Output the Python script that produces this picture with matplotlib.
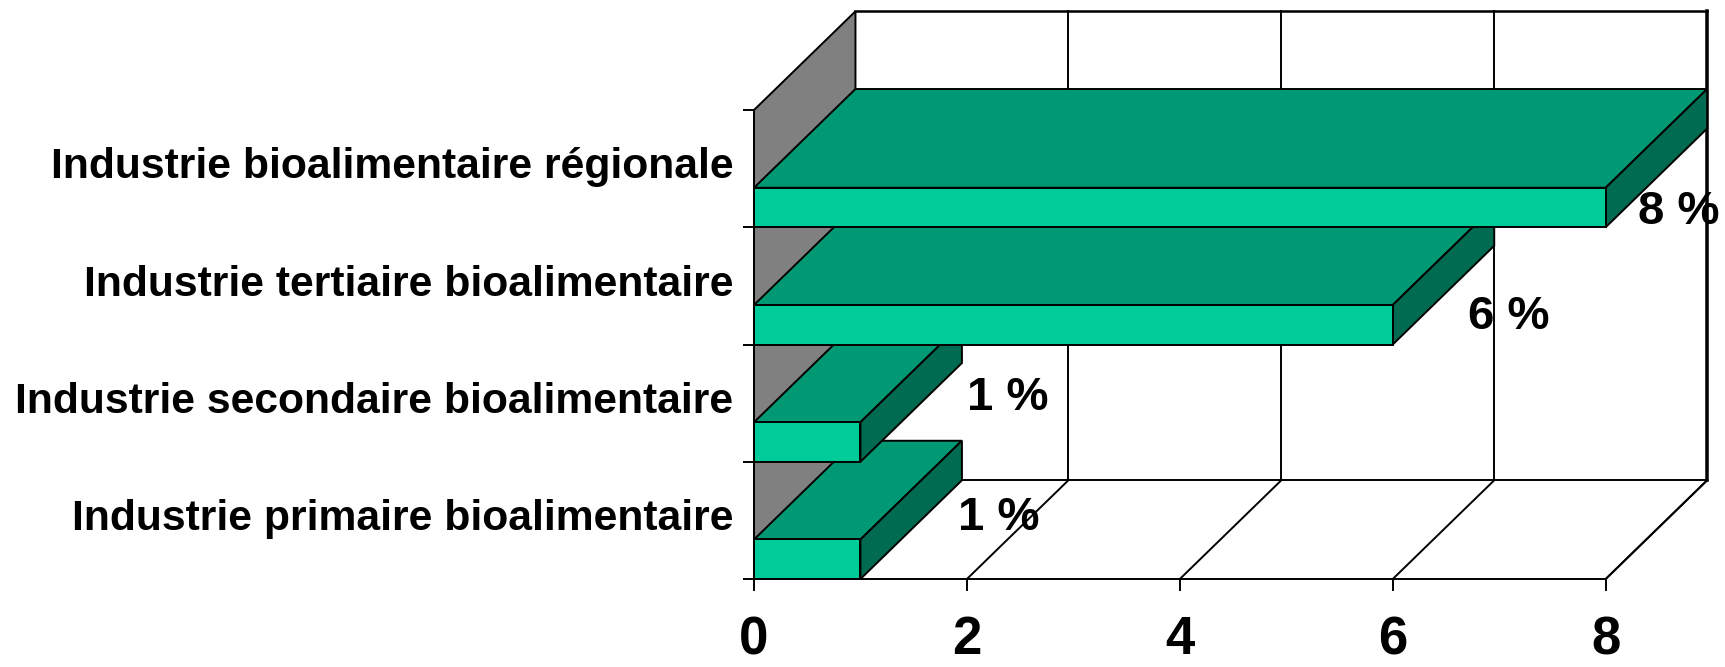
import matplotlib
matplotlib.use("Agg")
import matplotlib.pyplot as plt
from matplotlib.patches import Polygon

categories = ["Industrie primaire bioalimentaire", "Industrie secondaire bioalimentaire",
              "Industrie tertiaire bioalimentaire", "Industrie bioalimentaire régionale"]
values = [1, 1, 6, 8]
value_labels = ["1 %", "1 %", "6 %", "8 %"]
x_ticks = [0, 2, 4, 6, 8]

W, H = 1725, 667
FONT = "Liberation Sans"
FRONT, TOP, SIDE, WALL = "#00CC99", "#009973", "#006B50", "#808080"
DX, DY = 0.953, 0.842      # oblique depth in data units
BAR_H = 0.337
LW = 1.4

fig = plt.figure(figsize=(W / 100, H / 100), dpi=100)
ax = fig.add_axes([754 / W, (H - 579) / H, 851.7 / W, 469 / H])
xmax, n = max(x_ticks), len(categories)
ax.set_xlim(0, xmax)
ax.set_ylim(0, n)
ax.patch.set_visible(False)
for s in ("top", "right"):
    ax.spines[s].set_visible(False)
for s in ("left", "bottom"):
    ax.spines[s].set_linewidth(LW)
    ax.spines[s].set_zorder(9)


def poly(pts, fc, z):
    ax.add_patch(Polygon(pts, closed=True, fc=fc, ec="black", lw=LW, zorder=z,
                         clip_on=False, joinstyle="miter"))


def line(xs, ys, z=1, lw=LW):
    ax.plot(xs, ys, color="black", lw=lw, zorder=z, clip_on=False, solid_capstyle="projecting")


# walls and floor
poly([(0, 0), (0, n), (DX, n + DY), (DX, DY)], WALL, 1)
line([DX, xmax + DX], [n + DY, n + DY], lw=LW * 1.3)
line([xmax + DX, xmax + DX], [DY, n + DY], lw=LW * 1.8)
line([DX, xmax + DX], [DY, DY])
line([xmax, xmax + DX], [0, DY])
for t in x_ticks[1:]:
    line([t, t + DX], [0, DY])
    if t != xmax:
        line([t + DX, t + DX], [DY, n + DY])

# bars, nearest the floor first so upper front faces overlap lower top faces
for i, v in enumerate(values):
    z = 3 + i
    y0, y1 = i, i + BAR_H
    poly([(0, y1), (DX, y1 + DY), (v + DX, y1 + DY), (v, y1)], TOP, z)
    poly([(v, y0), (v + DX, y0 + DY), (v + DX, y1 + DY), (v, y1)], SIDE, z)
    poly([(0, y0), (v, y0), (v, y1), (0, y1)], FRONT, z)

# ticks and labels
ax.set_xticks(x_ticks)
ax.set_xticklabels([str(t) for t in x_ticks], family=FONT, fontweight="bold", fontsize=38)
ax.tick_params(axis="x", length=8.5, width=LW, pad=17.5)
ax.set_yticks(range(n + 1))
ax.set_yticklabels([])
ax.tick_params(axis="y", which="major", length=8, width=LW)
ax.set_yticks([i + 0.55 for i in range(n)], minor=True)
ax.set_yticklabels(categories, minor=True, family=FONT, fontweight="bold", fontsize=30.7)
ax.tick_params(axis="y", which="minor", length=0, pad=15)

# value labels: pixel offsets (right, up) from the end of each bar's front face
offsets = [(98, 46), (107, 49), (75, 13), (32, 0)]
for i, (v, lab, off) in enumerate(zip(values, value_labels, offsets)):
    ax.annotate(lab, xy=(v, i + BAR_H / 2), xycoords="data",
                xytext=(off[0] * 0.72, off[1] * 0.72), textcoords="offset points",
                ha="left", va="center_baseline", family=FONT, fontweight="bold", fontsize=34,
                zorder=20, annotation_clip=False)

fig.savefig("out.png", dpi=100)
